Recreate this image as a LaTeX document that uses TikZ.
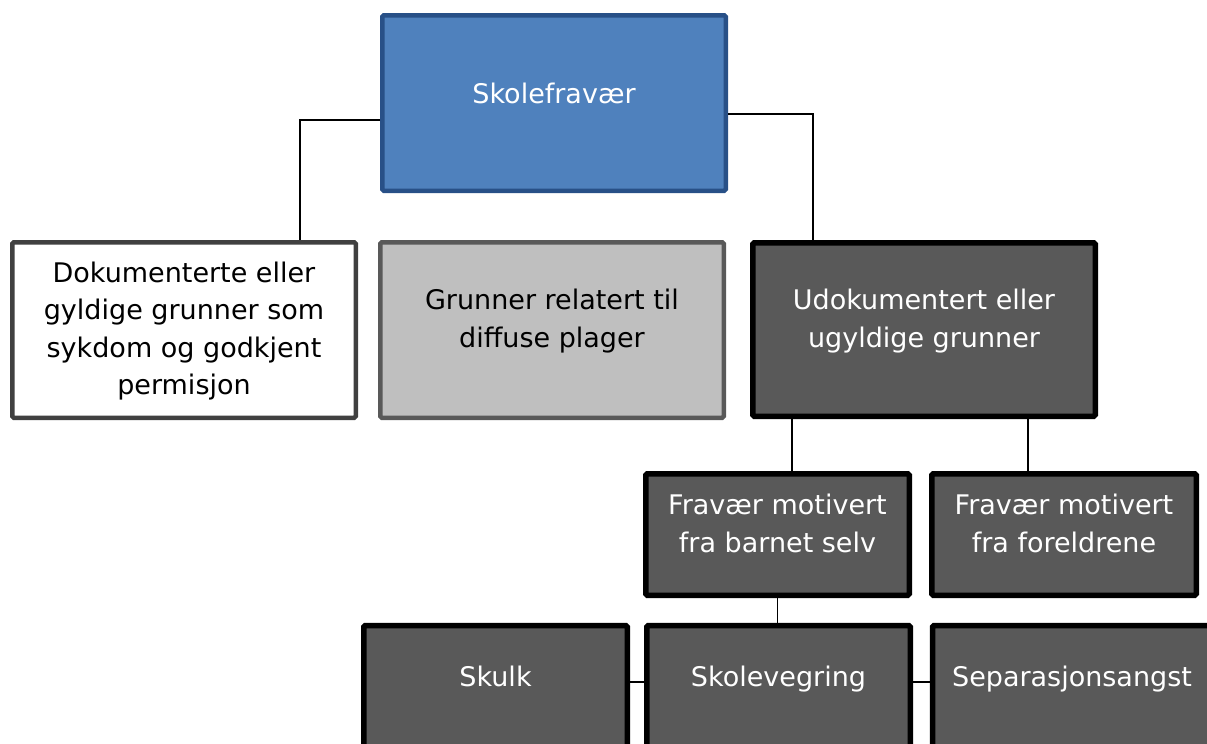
\documentclass[tikz,border=0pt]{standalone}
\usepackage{fontspec}
\setmainfont{DejaVu Sans}
\definecolor{topfill}{RGB}{79,129,189}
\definecolor{topline}{RGB}{40,80,135}
\definecolor{darkfill}{RGB}{89,89,89}
\definecolor{lightfill}{RGB}{191,191,191}
\definecolor{lightline}{RGB}{89,89,89}
\definecolor{whiteline}{RGB}{64,64,64}
\tikzset{
  box/.style={rectangle, rounded corners=1.5pt, inner sep=0pt},
  topbox/.style={box, fill=topfill, draw=topline, line width=4.5pt},
  plainbox/.style={box, fill=white, draw=whiteline, line width=4.5pt},
  greybox/.style={box, fill=lightfill, draw=lightline, line width=4.5pt},
  darkbox/.style={box, fill=darkfill, draw=black, line width=5.5pt},
  lbl/.style={anchor=base, align=center, inner sep=0pt,
    font=\fontsize{27pt}{37.5pt}\selectfont},
  link/.style={draw=black, line width=1.8pt},
}
\begin{document}
\begin{tikzpicture}[x=1pt, y=-1pt]
\useasboundingbox (0,0) rectangle (1207,744);

% boxes
\node[topbox, minimum width=343.5pt, minimum height=175.5pt] (top) at (554,103) {};
\node[plainbox, minimum width=343.5pt, minimum height=175.5pt] (docu) at (184,330) {};
\node[greybox, minimum width=343.5pt, minimum height=175.5pt] (diffuse) at (552,330) {};
\node[darkbox, minimum width=342.5pt, minimum height=173.5pt] (undoc) at (924,329.5) {};
\node[darkbox, minimum width=263.5pt, minimum height=121.5pt] (child) at (777.5,534.5) {};
\node[darkbox, minimum width=264.5pt, minimum height=121.5pt] (parents) at (1064,534.5) {};
\node[darkbox, minimum width=263.5pt, minimum height=140pt] (skulk) at (495.5,695.5) {};
\node[darkbox, minimum width=263.5pt, minimum height=140pt] (refusal) at (778.5,695.5) {};
\node[darkbox, minimum width=280pt, minimum height=140pt] (separation) at (1072.5,695.5) {};

% labels (anchored on the baseline of the last line)
\node[lbl, text=white] (t-top) at (554,103) {Skolefravær};
\node[lbl, text=black] (t-docu) at (184,394.5) {Dokumenterte eller\\gyldige grunner som\\sykdom og godkjent\\permisjon};
\node[lbl, text=black] (t-diffuse) at (552,347) {Grunner relatert til\\diffuse plager};
\node[lbl, text=white] (t-undoc) at (924,347) {Udokumentert eller\\ugyldige grunner};
\node[lbl, text=white] (t-child) at (777.5,552) {Fravær motivert\\fra barnet selv};
\node[lbl, text=white] (t-parents) at (1064,552) {Fravær motivert\\fra foreldrene};
\node[lbl, text=white] (t-skulk) at (495.5,686) {Skulk};
\node[lbl, text=white] (t-refusal) at (778.5,686) {Skolevegring};
\node[lbl, text=white] (t-separation) at (1072,686) {Separasjonsangst};

% connectors
\coordinate (row) at (0,682);
\path[link] ([yshift=-17pt]top.west) -| ([xshift=116pt]docu.north);
\path[link] ([yshift=-11pt]top.east) -| ([xshift=-111pt]undoc.north);
\path[link] ([xshift=-132pt]undoc.south) -- ([xshift=-132pt]undoc.south |- child.north);
\path[link] ([xshift=104pt]undoc.south) -- ([xshift=104pt]undoc.south |- parents.north);
\path[link] (child.south) -- (child.south |- refusal.north);
\path[link] (skulk.east |- row) -- (refusal.west |- row);
\path[link] (refusal.east |- row) -- (separation.west |- row);
\end{tikzpicture}
\end{document}
